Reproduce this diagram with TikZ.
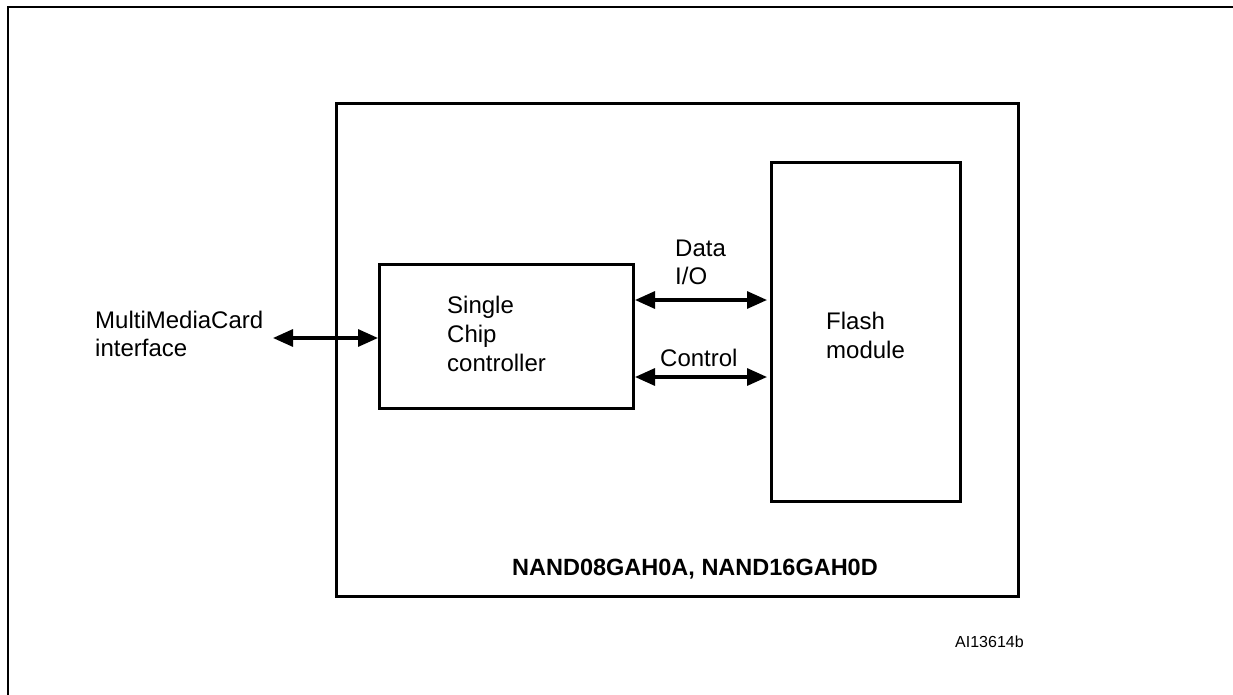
\documentclass[tikz,border=0pt]{standalone}
\usepackage{fontspec}
\setmainfont{Liberation Sans}
\usetikzlibrary{arrows.meta}
\begin{document}
\begin{tikzpicture}[x=1pt,y=-1pt,
  box/.style={draw,line width=3pt,inner sep=0pt,anchor=north west},
  lbl/.style={anchor=base west,inner sep=0pt,font=\fontsize{24}{28}\selectfont},
  arr/.style={line width=3.2pt,{Triangle[length=20pt,width=17pt]}-{Triangle[length=20pt,width=17pt]}}]
\useasboundingbox (0,0) rectangle (1233,695);
% outer frame
\draw[line width=2.6pt] (8,695) -- (8,7) -- (1233,7);
% main box
\node[box,minimum width=682pt,minimum height=493pt] (main) at (335,102) {};
% controller
\node[box,minimum width=254pt,minimum height=144pt] (ctrl) at (378,263) {};
% flash
\node[box,minimum width=189pt,minimum height=339pt] (flash) at (770,161) {};
% labels
\node[lbl] (mmc1) at (95,328) {MultiMediaCard};
\node[lbl] (mmc2) at (95,356) {interface};
\node[lbl] (c1) at (447,313) {Single};
\node[lbl] (c2) at (447,342) {Chip};
\node[lbl] (c3) at (447,371) {controller};
\node[lbl] (f1) at (826,329) {Flash};
\node[lbl] (f2) at (826,358) {module};
\node[lbl] (d1) at (675,256) {Data};
\node[lbl] (d2) at (675,284) {I/O};
\node[lbl] (ctl) at (660,366) {Control};
\node[lbl,font=\bfseries\fontsize{23.5}{28}\selectfont] (part) at (512,575) {NAND08GAH0A, NAND16GAH0D};
\node[lbl,font=\fontsize{16}{19}\selectfont] (ai) at (955,647) {AI13614b};
% connectors
\coordinate (mmcend) at (273,338);
\coordinate (dy) at (700,300);
\coordinate (cy) at (700,377);
\draw[arr] (mmcend) -- (ctrl.west |- mmcend);
\draw[arr] (ctrl.east |- dy) -- ([xshift=-3pt]flash.west |- dy);
\draw[arr] (ctrl.east |- cy) -- ([xshift=-3pt]flash.west |- cy);
\end{tikzpicture}
\end{document}
